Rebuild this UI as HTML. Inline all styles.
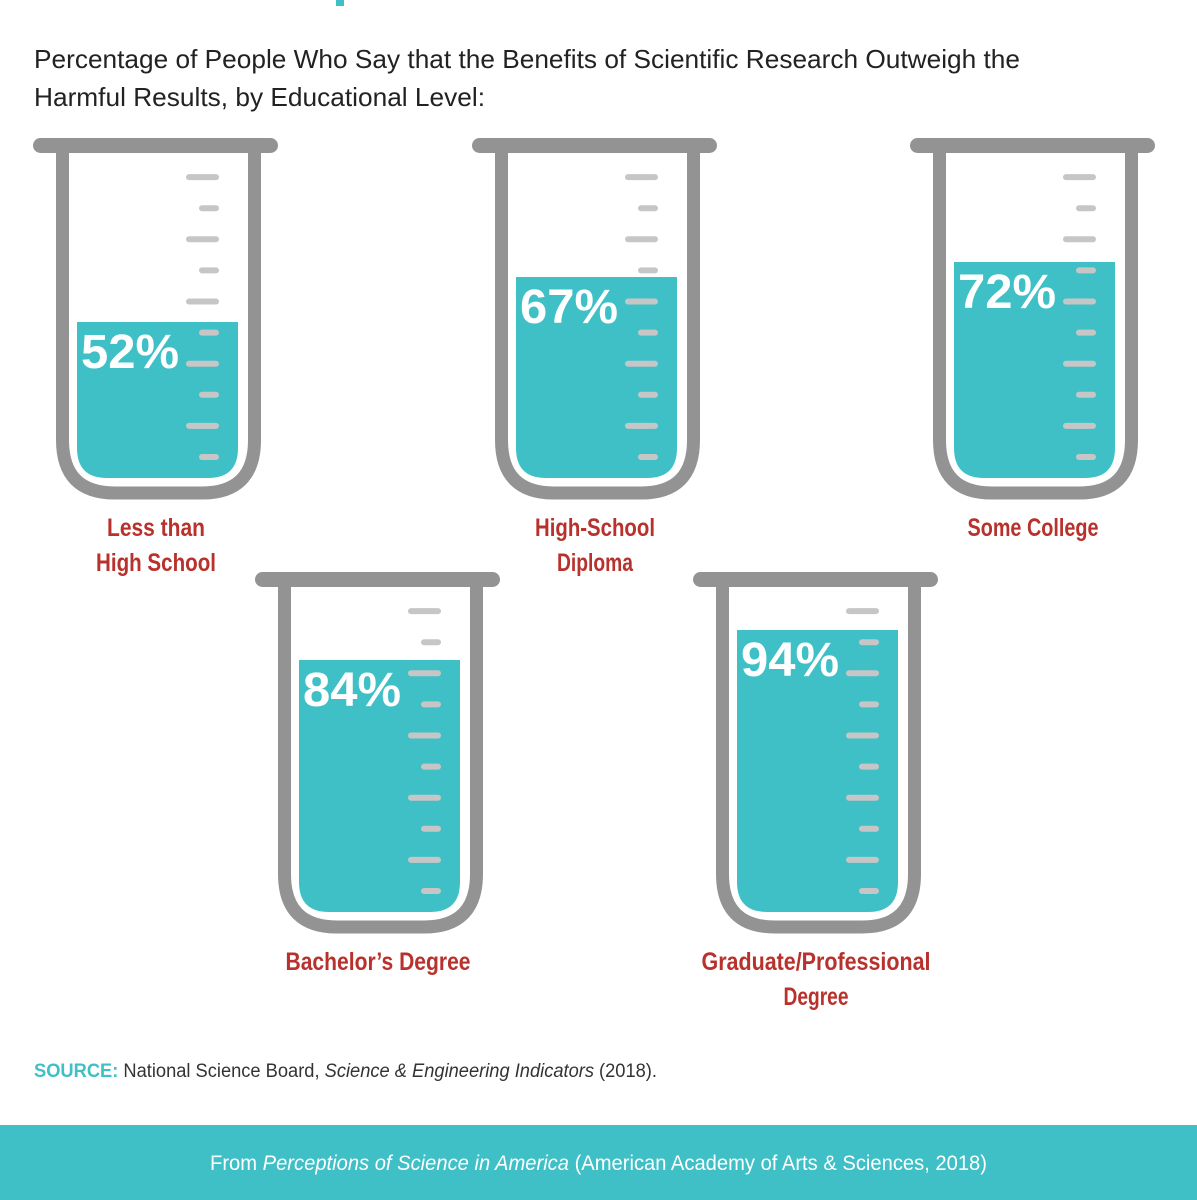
<!DOCTYPE html>
<html><head><meta charset="utf-8"><style>
html,body{margin:0;padding:0;background:#fff;width:1197px;height:1200px;overflow:hidden}
svg{display:block}
</style></head><body>
<svg id="chart" width="1197" height="1200" viewBox="0 0 1197 1200" xmlns="http://www.w3.org/2000/svg">
<rect x="336" y="0" width="8" height="6" fill="#3fbfc6"/>
<text x="34" y="68" font-family="Liberation Sans Narrow, Liberation Sans, sans-serif" font-size="26" fill="#222" textLength="986" lengthAdjust="spacingAndGlyphs">Percentage of People Who Say that the Benefits of Scientific Research Outweigh the</text>
<text x="34" y="106" font-family="Liberation Sans Narrow, Liberation Sans, sans-serif" font-size="26" fill="#222" textLength="451" lengthAdjust="spacingAndGlyphs">Harmful Results, by Educational Level:</text>
<g id="beakers"></g>
<text x="34" y="1077" font-family="Liberation Sans, sans-serif" font-size="19" fill="#333" textLength="623" lengthAdjust="spacingAndGlyphs"><tspan font-weight="bold" fill="#3fbfc6">SOURCE:</tspan> National Science Board, <tspan font-style="italic">Science &amp; Engineering Indicators</tspan> (2018).</text>
<rect x="0" y="1125" width="1197" height="75" fill="#3fbfc6"/>
<text x="210" y="1170" font-family="Liberation Sans, sans-serif" font-size="21" fill="#fff" textLength="777" lengthAdjust="spacingAndGlyphs">From <tspan font-style="italic">Perceptions of Science in America</tspan> (American Academy of Arts &amp; Sciences, 2018)</text>
</svg>
<script>
const categories = [["Less than","High School"],["High-School","Diploma"],["Some College"],["Bachelor’s Degree"],["Graduate/Professional","Degree"]];
const values = [52, 67, 72, 84, 94];
const valueLabels = ["52%","67%","72%","84%","94%"];
const offsets = [[0,0],[439,0],[877,0],[222,434],[660,434]];

const NS = "http://www.w3.org/2000/svg";
const g = document.getElementById('beakers');
const BOTTOM = 478, FULL = 300;
function yScale(v){ return BOTTOM - v/100*FULL; }
function mk(tag, attrs, parent){
  const e = document.createElementNS(NS, tag);
  for (const k in attrs) e.setAttribute(k, attrs[k]);
  parent.appendChild(e); return e;
}
const labelWidth = (s)=>Math.round(s.length*5.9);
values.forEach((v,i)=>{
  const [dx,dy] = offsets[i];
  const b = mk('g',{transform:`translate(${dx},${dy})`},g);
  
  
  const glass = mk('path',{d:'M62.5,146 V440 Q62.5,493 115,493 H202 Q254.5,493 254.5,440 V146',fill:'none',stroke:'#939393','stroke-width':13},b);
  
  
  const rim = mk('rect',{x:33,y:138,width:245,height:15,rx:7.5,fill:'#939393'},b);
  
  
  const top = yScale(v);
  const liq = mk('path',{d:`M77,${top} H238 V448 Q238,478 208,478 H107 Q77,478 77,448 Z`,fill:'#3fc0c7'},b);
  
  
  for(let t=0;t<10;t++){
    const y = 457 - t*31.1;
    const long = (t%2===1);
    const tk = mk('line',{x1:long?189:202,x2:216,y1:y,y2:y,stroke:'#c6c6c6','stroke-width':6,'stroke-linecap':'round'},b);
    
    
  }
  const pt = mk('text',{x:81,y:top+46,'font-family':'Liberation Sans Narrow, Liberation Sans, sans-serif','font-weight':'bold','font-size':48,fill:'#fff',textLength:98,lengthAdjust:'spacingAndGlyphs'},b);
  pt.textContent = valueLabels[i];
  
  
  categories[i].forEach((line,j)=>{
    const w = Math.round(line.length*10.9);
    const lt = mk('text',{x:156,y:536+j*35,'text-anchor':'middle','font-family':'Liberation Sans, sans-serif','font-weight':'bold','font-size':25,fill:'#b8312c',textLength:w,lengthAdjust:'spacingAndGlyphs'},b);
    lt.textContent = line;
    
    
  });
});
</script>
</body></html>
